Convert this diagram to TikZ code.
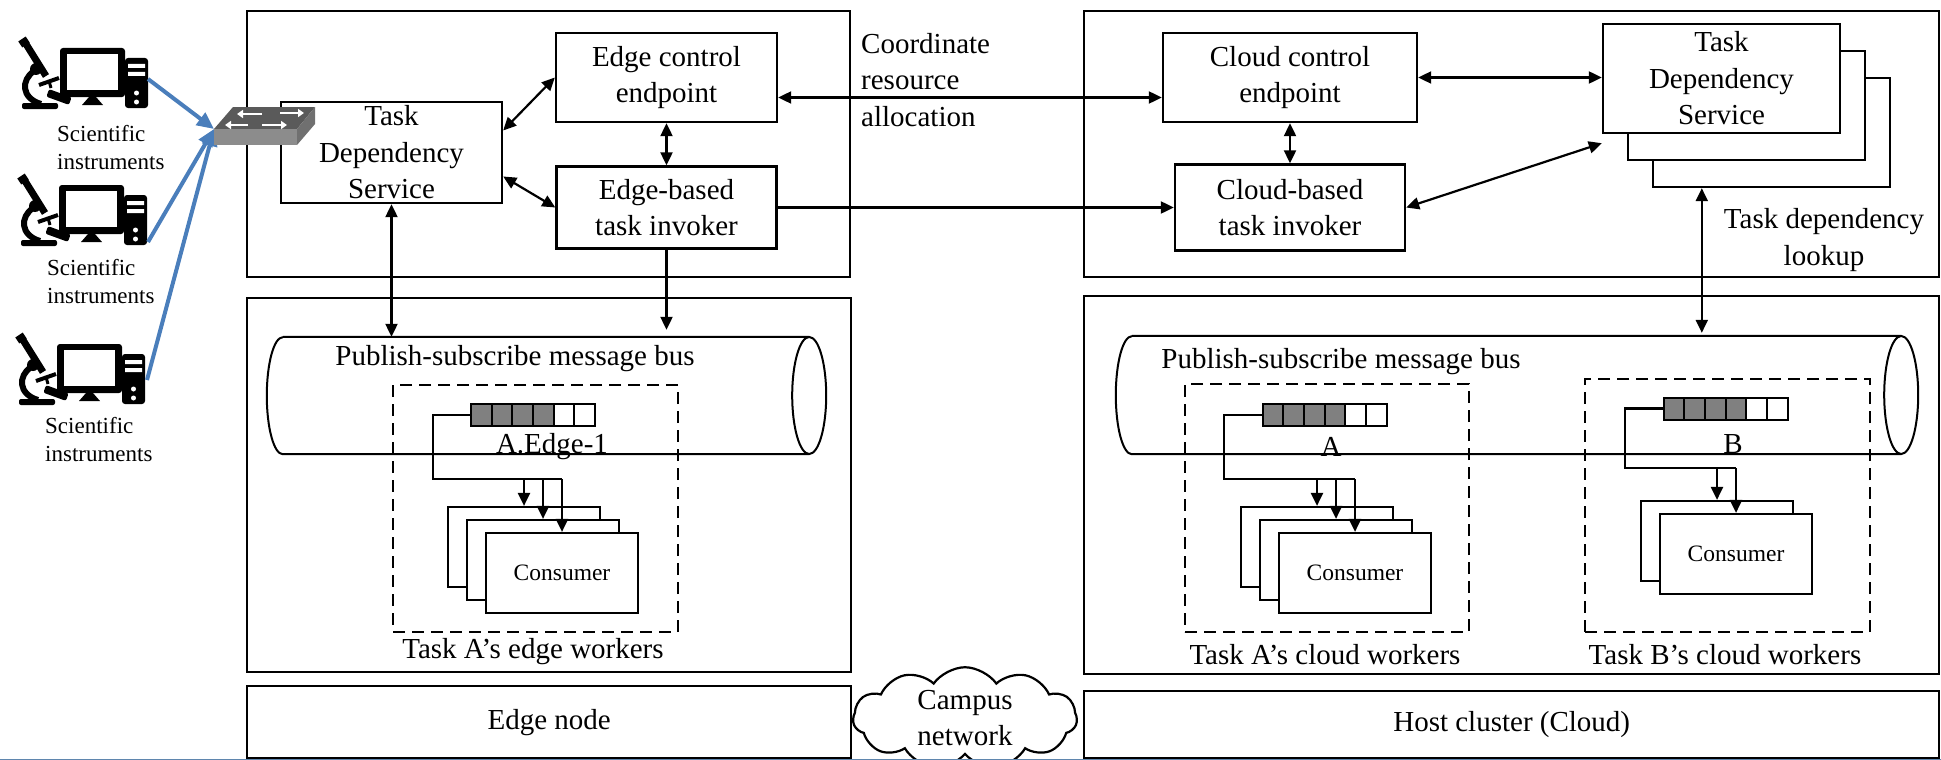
\documentclass[tikz,border=0pt]{standalone}
\usepackage{fontspec}
\setmainfont{Liberation Serif}
\usetikzlibrary{positioning, arrows.meta, shapes.symbols}

\definecolor{linkblue}{HTML}{4A7EBB}
\definecolor{cellgray}{HTML}{808080}
\definecolor{swtop}{HTML}{5A5A5A}
\definecolor{swfront}{HTML}{8C8C8C}
\definecolor{swside}{HTML}{707070}
\definecolor{rimblue}{HTML}{5F86AE}

\tikzset{
  pics/instrument/.style={code={
    % microscope
    \fill[rounded corners=2pt] (1,63) rectangle (37,69);
    \draw[line width=7pt] (5,4) -- (25,36);
    \draw[line width=9pt] (1,-1) -- (5,5);
    \draw[line width=6pt] (13,31) .. controls (0,40) and (0,58) .. (20,64);
    \fill (15,29) circle[radius=6pt];
    \draw[line width=4pt] (18,45) -- (38,38);
    \draw[line width=3pt] (28,41) -- (30,48);
    \fill[rounded corners=2pt, rotate around={-20:(38,57)}] (26,53) rectangle (50,61);
    % monitor and tower
    \fill[rounded corners=3pt] (39,8) rectangle (104,57);
    \fill[white] (46,14) rectangle (97,50);
    \fill (68,57) -- (75,57) -- (82,65) -- (61,65) -- cycle;
    \fill[rounded corners=3pt] (104,18) rectangle (127,68);
    \fill[white] (107,24) rectangle (124,28) (107,32) rectangle (124,36);
    \fill[white] (115.5,53) circle[radius=2.5pt] (115.5,62) circle[radius=2.5pt];
  }},
  pics/msgqueue/.style={code={
    \node[minimum width=124pt, minimum height=22pt, inner sep=0pt] (-q) at (0,0) {};
    \foreach \i in {0,...,3}
      \filldraw[fill=cellgray, line width=2pt] (-62+\i*20.667,-11) rectangle ++(20.667,22);
    \foreach \i in {4,5}
      \draw[line width=2pt] (-62+\i*20.667,-11) rectangle ++(20.667,22);
  }}
}

\begin{document}
\begin{tikzpicture}[x=1pt, y=-1pt, node distance=130pt, on grid,
    font=\fontsize{29}{36.5}\selectfont,
    >={Triangle[length=13pt, width=12pt]},
    region/.style={draw, line width=2.4pt, anchor=north west, inner sep=0pt},
    box/.style={draw, line width=2.4pt, fill=white, align=center, inner sep=0pt},
    link/.style={line width=2.2pt},
    worker/.style={draw, line width=2.2pt, fill=white, minimum width=152pt,
      minimum height=80pt, inner sep=0pt, font=\fontsize{23.5}{28}\selectfont},
    group/.style={draw, line width=2.2pt, dash pattern=on 12pt off 7pt, anchor=north west},
    bus/.style={line width=2pt},
    uplink/.style={draw=linkblue, line width=4pt, -{Triangle[length=17pt, width=15pt]}},
    small/.style={font=\fontsize{23}{28}\selectfont, align=left, inner sep=0pt, anchor=west}]
\useasboundingbox (0,0) rectangle (1941,760);

% edge node
\node[region, minimum width=603pt, minimum height=266pt] (etop) at (246,10) {};
\node[region, minimum width=604pt, minimum height=374pt] (ebot) at (246,297) {};
\node[region, minimum width=604pt, minimum height=72pt] (enode) at (246,685) {Edge node};

\node[box, minimum width=221pt, minimum height=101pt] (tdse) at (391.5,152.5) {Task\\Dependency\\Service};
\node[box, minimum width=221pt, minimum height=89pt] (ece) at (666.5,77.5) {Edge control\\endpoint};
\node[box, minimum width=220pt, minimum height=82pt] (ebti) [below=of ece] {Edge-based\\task invoker};

% host cluster
\node[region, minimum width=855pt, minimum height=266pt] (ctop) at (1083,10) {};
\node[region, minimum width=855pt, minimum height=378pt] (cbot) at (1083,295) {};
\node[region, minimum width=855pt, minimum height=67pt] (cnode) at (1083,690) {Host cluster (Cloud)};

\node[box, minimum width=254pt, minimum height=89pt] (cce) at (1290,77.5) {Cloud control\\endpoint};
\node[box, minimum width=230pt, minimum height=86pt] (cbti) [below=of cce] {Cloud-based\\task invoker};
\node[box, minimum width=237pt, minimum height=109pt] (tdsc3) at (1771.5,132.5) {};
\node[box, minimum width=237pt, minimum height=109pt] (tdsc2) [above left=27pt and 25pt of tdsc3] {};
\node[box, minimum width=237pt, minimum height=109pt] (tdsc) [above left=27pt and 25pt of tdsc2] {Task\\Dependency\\Service};

\node[align=left, anchor=west, inner sep=0pt] (coord) at (861,80) {Coordinate\\resource\\allocation};
\node[align=center] (lookup) at (1824,240) {Task dependency\\lookup};

\node[cloud, draw, line width=2.2pt, fill=white, cloud puffs=11, cloud puff arc=110,
  aspect=2.2, minimum width=224pt, minimum height=100pt, align=center, inner sep=0pt]
  (campus) at (965,718) {Campus\\network};

% message buses
\node[minimum width=526pt, minimum height=117pt, inner sep=0pt] (ebus) at (546,395.5) {};
\draw[bus] (ebus.north west) -- (ebus.north east)
  (ebus.south east) -- (ebus.south west)
  arc[start angle=270, end angle=90, x radius=16pt, y radius=58.5pt];
\draw[bus] (ebus.east) ellipse[x radius=17pt, y radius=58.5pt];
\node (ebustext) at (515,359) {Publish-subscribe message bus};

\node[minimum width=769pt, minimum height=118pt, inner sep=0pt] (cbus) at (1516.5,395) {};
\draw[bus] (cbus.north west) -- (cbus.north east)
  (cbus.south east) -- (cbus.south west)
  arc[start angle=270, end angle=90, x radius=16pt, y radius=59pt];
\draw[bus] (cbus.east) ellipse[x radius=17pt, y radius=59pt];
\node (cbustext) at (1341,362) {Publish-subscribe message bus};

% task A on the edge
\node[group, minimum width=285pt, minimum height=247pt] (ge) at (392,384) {};
\node (getext) at (533,652) {Task A's edge workers};
\pic (qe) at (533,415) {msgqueue};
\node (qetext) at (552,447) {A.Edge-1};
\node[worker] (ce1) at (524,547) {};
\node[worker] (ce2) [below right=13pt and 19pt of ce1] {};
\node[worker] (ce3) [below right=13pt and 19pt of ce2] {Consumer};
\coordinate (ebr) at (433,479);
\draw[link] (qe-q.west) -| (ebr) -- (ebr -| ce3.north);
\foreach \w in {ce1,ce2,ce3}
  \draw[link,->] (ebr -| \w.north) -- (\w.north);

% task A in the cloud
\node[group, minimum width=284pt, minimum height=248pt] (ga) at (1184,383) {};
\node (gatext) at (1325,655) {Task A's cloud workers};
\pic (qa) at (1324.5,415) {msgqueue};
\node (qatext) at (1331,447) {A};
\node[worker] (ca1) at (1317,547) {};
\node[worker] (ca2) [below right=13pt and 19pt of ca1] {};
\node[worker] (ca3) [below right=13pt and 19pt of ca2] {Consumer};
\coordinate (cabr) at (1224,479);
\draw[link] (qa-q.west) -| (cabr) -- (cabr -| ca3.north);
\foreach \w in {ca1,ca2,ca3}
  \draw[link,->] (cabr -| \w.north) -- (\w.north);

% task B in the cloud
\node[group, minimum width=285pt, minimum height=253pt] (gb) at (1584,378) {};
\node (gbtext) at (1725,655) {Task B's cloud workers};
\pic (qb) at (1725.5,408.5) {msgqueue};
\node (qbtext) at (1733,444) {B};
\node[worker] (cb1) at (1717,541) {};
\node[worker] (cb2) [below right=13pt and 19pt of cb1] {Consumer};
\coordinate (cbbr) at (1625,468);
\draw[link] (qb-q.west) -| (cbbr) -- (cbbr -| cb2.north);
\foreach \w in {cb1,cb2}
  \draw[link,->] (cbbr -| \w.north) -- (\w.north);

% control links
\draw[link,<->] ([yshift=22pt]tdse.east) -- (ece.west);
\draw[link,<->] ([yshift=-24pt]tdse.east) -- (ebti.west);
\draw[link,<->] (ece) -- (ebti);
\draw[link,<->] ([yshift=-20pt]ece.east) -- ([yshift=-20pt]cce.west);
\draw[link,->] (ebti) -- (cbti);
\draw[link,<->] (cce) -- (cbti);
\draw[link,<->] (cce.east) -- (cce.east -| tdsc.west);
\draw[link,<->] (cbti.east) -- ([yshift=-9pt]tdsc.south west);
\draw[link,<->] (tdse.south) -- (tdse.south |- ebus.north);
\draw[link,->] (ebti.south) -- ([yshift=7pt]ebti.south |- ebus.north);
\coordinate (look) at ([xshift=50pt]tdsc3.south west);
\draw[link,<->] (look) -- ([yshift=3pt]look |- cbus.north);

% instruments
\pic at (21,40) {instrument};
\pic at (20,177) {instrument};
\pic at (18,336) {instrument};
\node[small] (ins1text) at (57,147.5) {Scientific\\instruments};
\node[small] (ins2text) at (47,281.5) {Scientific\\instruments};
\node[small] (ins3text) at (45,440) {Scientific\\instruments};
\coordinate (ins1) at (148,79);
\coordinate (ins2) at (148,242);
\coordinate (ins3) at (147,380);
\coordinate (sw) at (214,129);
\foreach \i in {1,2,3}
  \draw[uplink] (ins\i) -- (sw);

% network switch
\fill[swtop] (sw) -- (233,107) -- (315,107) -- (297,129) -- cycle;
\fill[swfront] (sw) rectangle (297,145);
\fill[swside] (297,129) -- (315,107) -- (315,124) -- (297,145) -- cycle;
\foreach \a/\b/\y in {262/237/114, 280/304/113, 248/225/125, 262/287/125}
  \draw[white, line width=2.6pt, -{Triangle[length=6pt, width=8pt]}] (\a,\y) -- (\b,\y);

\draw[rimblue, line width=1.5pt] (0,759.3) -- (1941,759.3);
\end{tikzpicture}
\end{document}
